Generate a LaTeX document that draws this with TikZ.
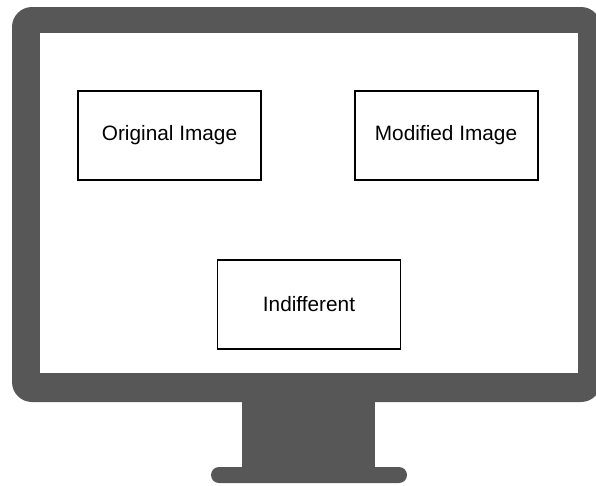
\documentclass[tikz,border=0pt]{standalone}
\usepackage{fontspec}
\setmainfont{Liberation Sans}
\definecolor{monitorgray}{RGB}{87,87,87}
\begin{document}
\begin{tikzpicture}[x=1pt,y=-1pt,
  choice/.style={draw=black,fill=white,line width=2pt,minimum width=183pt,minimum height=89pt,inner sep=0pt,
    font=\fontsize{20.8}{24}\selectfont},
  thinchoice/.style={choice,line width=1.4pt}]
\useasboundingbox (0,0) rectangle (596,485);
\clip (0,0) rectangle (596,485);
% monitor frame
\fill[monitorgray,rounded corners=20pt] (12,7) rectangle (601,402);
\fill[white] (40,33) rectangle (578,373);
% stand
\fill[monitorgray] (242,398) rectangle (375,469);
\fill[monitorgray,rounded corners=8pt] (211,467) rectangle (407,483);
% boxes
\node[choice] (orig) at (169.5,135.5) {Original Image};
\node[choice] (mod) at (446,135.5) {Modified Image};
\node[thinchoice] (ind) at (309,304.5) {Indifferent};
\end{tikzpicture}
\end{document}
